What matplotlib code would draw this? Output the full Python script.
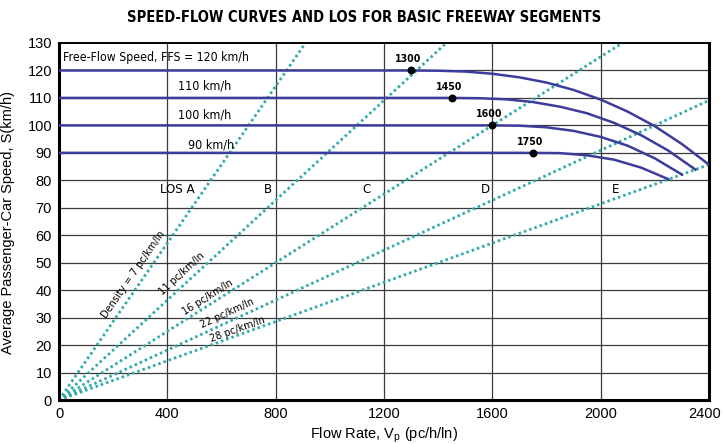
import numpy as np
import matplotlib
matplotlib.use("Agg")
import matplotlib.pyplot as plt
from matplotlib import font_manager
import matplotlib.transforms as mtransforms

# ---------------- data ----------------
ffs_values = [120, 110, 100, 90]
curve_flow = {
    120: [0, 1300, 1400, 1500, 1600, 1700, 1800, 1900, 2000, 2100, 2200, 2300, 2400],
    110: [0, 1450, 1550, 1650, 1750, 1850, 1950, 2050, 2150, 2250, 2350],
    100: [0, 1600, 1700, 1800, 1900, 2000, 2100, 2200, 2300],
    90:  [0, 1750, 1850, 1950, 2050, 2150, 2250],
}
curve_speed = {
    120: [120, 120, 119.9, 119.6, 118.8, 117.5, 115.6, 112.9, 109.4, 105.0, 99.7, 93.2, 85.7],
    110: [110, 110, 109.9, 109.5, 108.5, 106.8, 104.4, 100.9, 96.4, 90.8, 83.9],
    100: [100, 100, 99.9, 99.3, 98.0, 95.8, 92.6, 88.0, 82.1],
    90:  [90, 90, 89.9, 89.1, 87.5, 84.6, 80.4],
}
breakpoint_flow = [1300, 1450, 1600, 1750]
breakpoint_speed = [120, 110, 100, 90]
breakpoint_labels = ["1300", "1450", "1600", "1750"]

densities = [7, 11, 16, 22, 28]
density_end_flow = [910, 1430, 2080, 2400, 2400]
density_end_speed = [130, 130, 130, 109.1, 85.7]
density_labels = ["Density = 7 pc/km/ln", "11 pc/km/ln", "16 pc/km/ln",
                  "22 pc/km/ln", "28 pc/km/ln"]

los_labels = ["LOS A", "B", "C", "D", "E"]
los_flow = [435, 772, 1134, 1573, 2057]
los_speed = 76.5

ffs_labels = ["Free-Flow Speed, FFS = 120 km/h", "110 km/h", "100 km/h", "90 km/h"]

x_ticks = [0, 400, 800, 1200, 1600, 2000, 2400]
y_ticks = list(range(0, 131, 10))

# ---------------- fonts ----------------
avail = {f.name for f in font_manager.fontManager.ttflist}
if 'Liberation Sans Narrow' in avail:
    NF = dict(family=['Liberation Sans Narrow', 'DejaVu Sans'])
else:
    NF = dict(family=['DejaVu Sans'], fontstretch='condensed')
plt.rcParams['font.family'] = ['Liberation Sans', 'DejaVu Sans']

curve_color = '#3c3c9c'
dens_color = '#2eaaa8'
grid_color = '#3a3a3a'

fig = plt.figure(figsize=(7.24, 4.44), dpi=100)
ax = fig.add_axes([59/724, 1-400/444, 650/724, 357/444])
ax.set_xlim(0, 2400)
ax.set_ylim(0, 130)

# grid
for y in y_ticks[1:-1]:
    ax.axhline(y, color=grid_color, lw=0.9, zorder=1)
for x in x_ticks[1:-1]:
    ax.axvline(x, color=grid_color, lw=0.9, zorder=1)

# density lines
for d, fe, se in zip(densities, density_end_flow, density_end_speed):
    ax.plot([0, fe], [0, se], color=dens_color, lw=2.0,
            linestyle=(0, (0.9, 1.1)), zorder=2, solid_capstyle='butt')

# speed-flow curves
for f in ffs_values:
    ax.plot(curve_flow[f], curve_speed[f], color=curve_color, lw=1.8, zorder=3)

ax.scatter(breakpoint_flow, breakpoint_speed, s=22, color='black', zorder=4)
for fx, sy, lab in zip(breakpoint_flow, breakpoint_speed, breakpoint_labels):
    ax.text(fx - 10, sy + 2.2, lab, ha='center', va='bottom', fontsize=7.6,
            fontweight='bold', zorder=5, **NF)

# FFS labels
ax.text(13, 124.6, ffs_labels[0], ha='left', va='center', fontsize=8.8, **NF)
ax.text(536, 114.2, ffs_labels[1], ha='center', va='center', fontsize=9, **NF)
ax.text(536, 103.6, ffs_labels[2], ha='center', va='center', fontsize=9, **NF)
ax.text(560, 92.8, ffs_labels[3], ha='center', va='center', fontsize=9, **NF)

# LOS labels
for lab, fx in zip(los_labels, los_flow):
    ax.text(fx, los_speed, lab, ha='center', va='center', fontsize=9.5, **NF)

# density labels along lines (display coordinates)
along_px = [145, 176, 180, 189, 192]
perp_px = [10, 10, 7, 8, 5.5]
o = ax.transData.transform((0, 0))
for d, fe, se, lab, al, pp in zip(densities, density_end_flow, density_end_speed,
                                  density_labels, along_px, perp_px):
    e = ax.transData.transform((fe, se))
    v = e - o
    u = v / np.hypot(*v)
    n = np.array([-u[1], u[0]])
    p = o + al * u + pp * n
    ang = np.degrees(np.arctan2(v[1], v[0]))
    pd = ax.transData.inverted().transform(p)
    ax.text(pd[0], pd[1], lab, rotation=ang, rotation_mode='anchor',
            ha='center', va='center', fontsize=7.8, zorder=5, **NF)

# axes
ax.set_xticks(x_ticks)
ax.set_yticks(y_ticks)
ax.tick_params(length=0, labelsize=10.5, pad=5)
lbls = ax.get_xticklabels()
lbls[-1].set_transform(lbls[-1].get_transform() +
                       mtransforms.ScaledTranslation(-4/100, 0, fig.dpi_scale_trans))
for s in ['left', 'bottom', 'right']:
    ax.spines[s].set_linewidth(2.2)
ax.spines['top'].set_linewidth(1.4)

ax.set_xlabel('Flow Rate, V$_\\mathregular{p}$ (pc/h/ln)', fontsize=10.5, labelpad=3)
fig.text(8/724, 1-222/444, 'Average Passenger-Car Speed, S(km/h)', rotation=90,
         ha='center', va='center', fontsize=10.5)

fig.text(364/724, 1-17/444, 'SPEED-FLOW CURVES AND LOS FOR BASIC FREEWAY SEGMENTS',
         ha='center', va='center', fontsize=10.5, fontweight='bold', **NF)

fig.savefig('out.png', dpi=100)
